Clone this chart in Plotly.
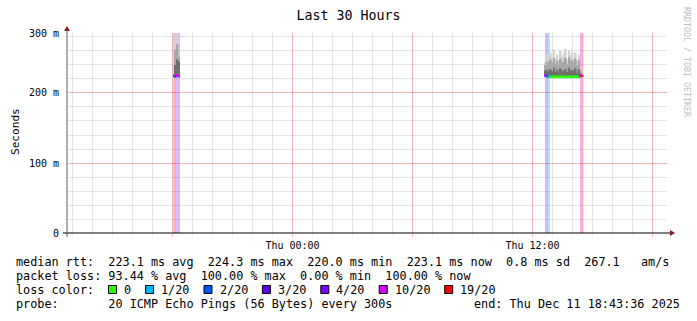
import plotly.graph_objects as go

# ---------------- data ----------------
title_text = "Last 30 Hours"
t_start = "2025-12-10 12:43:36"
t_end = "2025-12-11 18:43:36"
y_top_s = 0.2857

x_tick_vals = ["2025-12-10 18:00", "2025-12-11 00:00", "2025-12-11 06:00",
               "2025-12-11 12:00", "2025-12-11 18:00"]
x_tick_text = ["", "Thu 00:00", "", "Thu 12:00", ""]
y_tick_vals = [0, 0.1, 0.2, 0.2857]
y_tick_text = ["0", "100 m", "200 m", "300 m"]

sample_times = [
    "2025-12-10 18:05", "2025-12-10 18:10", "2025-12-10 18:15", "2025-12-10 18:20",
    "2025-12-11 12:40", "2025-12-11 12:45", "2025-12-11 12:50", "2025-12-11 12:55",
    "2025-12-11 13:00", "2025-12-11 13:05", "2025-12-11 13:10", "2025-12-11 13:15",
    "2025-12-11 13:20", "2025-12-11 13:25", "2025-12-11 13:30", "2025-12-11 13:35",
    "2025-12-11 13:40", "2025-12-11 13:45", "2025-12-11 13:50", "2025-12-11 13:55",
    "2025-12-11 14:00", "2025-12-11 14:05", "2025-12-11 14:10", "2025-12-11 14:15",
    "2025-12-11 14:20", "2025-12-11 14:25", "2025-12-11 14:30",
]
loss_20 = [19, 2, 10, 10,
           10, 2, 1, 0, 0, 0, 0, 0, 0, 0, 0, 0, 0, 0, 0, 0, 0, 0, 0, 0, 0, 10, 19]
median_ms = [224.5, 223.5, 225.0, 224.0,
             225.0, 224.0, 223.5, 223.2, 223.0, 223.4, 223.1, 223.3, 223.0, 223.2, 223.5,
             222.9, 223.1, 223.0, 223.4, 223.2, 223.0, 223.3, 223.6, 223.1, 223.2, 224.0, 224.5]
min_ms = [224.5, 221.0, 222.0, 222.0,
          222.0, 221.0, 221.0, 220.5, 220.3, 220.8, 220.2, 220.6, 220.4, 220.5, 221.0,
          220.1, 220.6, 220.3, 220.7, 220.5, 220.2, 220.6, 220.9, 220.4, 220.5, 221.5, 224.5]
q1_ms = [224.5, 223.0, 224.0, 223.5,
         223.5, 222.5, 222.5, 222.0, 222.0, 222.5, 222.0, 222.3, 222.0, 222.2, 222.5,
         221.8, 222.2, 222.0, 222.4, 222.2, 222.0, 222.3, 222.6, 222.1, 222.2, 223.0, 224.5]
q3_ms = [224.5, 240.0, 248.0, 245.0,
         232.0, 233.0, 230.0, 234.0, 231.0, 236.0, 230.0, 233.0, 229.0, 235.0, 232.0,
         231.0, 234.0, 230.0, 236.0, 232.0, 233.0, 231.0, 235.0, 229.0, 234.0, 228.0, 224.5]
p90_ms = [224.5, 262.0, 270.0, 252.0,
          240.0, 245.0, 243.0, 248.0, 244.0, 250.0, 242.0, 246.0, 240.0, 249.0, 244.0,
          245.0, 250.0, 241.0, 251.0, 246.0, 247.0, 243.0, 249.0, 240.0, 247.0, 233.0, 224.5]
max_ms = [224.5, 285.0, 285.0, 256.0,
          244.0, 256.0, 252.0, 258.0, 251.0, 262.0, 249.0, 255.0, 247.0, 260.0, 252.0,
          257.0, 263.0, 248.0, 261.0, 254.0, 259.0, 250.0, 258.0, 246.0, 255.0, 236.0, 224.5]

loss_levels = [0, 1, 2, 3, 4, 10, 19]
loss_labels = ["0", "1/20", "2/20", "3/20", "4/20", "10/20", "19/20"]
loss_colors = ["#26ff00", "#00b8ff", "#0059ff", "#5e00ff", "#7e00ff", "#dd00ff", "#ff0000"]

rtt_avg, rtt_max, rtt_min, rtt_now, rtt_sd, rtt_ams = 223.1, 224.3, 220.0, 223.1, 0.8, 267.1
loss_avg, loss_max, loss_min, loss_now = 93.44, 100.00, 0.00, 100.00
probe_text = "20 ICMP Echo Pings (56 Bytes) every 300s"
end_text = "end: Thu Dec 11 18:43:36 2025"

# ---------------- helpers ----------------
STEP_MS = 300000
MONO = "DejaVu Sans Mono"
L, R, T, B = 67, 30, 33, 88
PW, PH = 697 - L - R, 321 - T - B


def loss_color(n):
    col = loss_colors[0]
    for lv, c in zip(loss_levels, loss_colors):
        if n >= lv:
            col = c
    return col


def rgba(hexc, a):
    h = hexc.lstrip("#")
    return "rgba(%d,%d,%d,%.2f)" % (int(h[0:2], 16), int(h[2:4], 16), int(h[4:6], 16), a)


def px(x):
    return (x - L) / PW


def py(y):
    return (T + PH - y) / PH


def ann(text, x, y, size=11.8, anchor="left", color="#000000", angle=0):
    return dict(text=text.replace(" ", "\u00a0"), x=px(x), y=py(y), xref="paper", yref="paper",
                xanchor=anchor, yanchor="middle", showarrow=False, textangle=angle,
                borderpad=0, font=dict(family=MONO, size=size, color=color))


fig = go.Figure()

# loss background bands
bg_idx = [i for i, n in enumerate(loss_20) if n > 0]
fig.add_trace(go.Bar(
    x=[sample_times[i] for i in bg_idx], base=[0] * len(bg_idx),
    y=[y_top_s] * len(bg_idx), width=[STEP_MS] * len(bg_idx),
    marker=dict(color=[rgba(loss_color(loss_20[i]), 0.33) for i in bg_idx], line=dict(width=0)),
    hoverinfo="skip", showlegend=False))

# smoke layers
def smoke(lo, hi, color):
    fig.add_trace(go.Bar(
        x=sample_times, base=[v / 1000 for v in lo],
        y=[(h - l) / 1000 for l, h in zip(lo, hi)], width=[STEP_MS] * len(sample_times),
        marker=dict(color=color, line=dict(width=0)), hoverinfo="skip", showlegend=False))

smoke(min_ms, max_ms, "#d3d3d3")
smoke(q1_ms, p90_ms, "#a8a8a8")
smoke(q1_ms, q3_ms, "#6e6e6e")

# median line coloured by loss
MED_H = 0.0034
fig.add_trace(go.Bar(
    x=sample_times, base=[m / 1000 - MED_H / 2 for m in median_ms],
    y=[MED_H] * len(sample_times), width=[STEP_MS] * len(sample_times),
    marker=dict(color=[loss_color(n) for n in loss_20], line=dict(width=0)),
    hoverinfo="skip", showlegend=False))

grid_red = "rgba(255,0,0,0.2)"
grid_grey = "rgba(0,0,0,0.10)"

fig.update_layout(
    width=697, height=321, autosize=False,
    margin=dict(l=L, r=R, t=T, b=B, pad=0),
    paper_bgcolor="#ffffff", plot_bgcolor="#ffffff",
    barmode="overlay", showlegend=False, hovermode=False,
    title=dict(text=title_text, x=0.5, xref="container", xanchor="center",
               y=1 - 15.5 / 321, yref="container", yanchor="middle",
               font=dict(family=MONO, size=13.3, color="#000000")),
    xaxis=dict(type="date", range=[t_start, t_end], tickmode="array",
               tickvals=x_tick_vals, ticktext=x_tick_text,
               showgrid=True, gridcolor=grid_red, gridwidth=1,
               ticks="outside", ticklen=3, tickcolor=grid_red,
               tickfont=dict(family=MONO, size=10, color="#000000"),
               minor=dict(tickmode="linear", tick0="2025-12-10 00:00", dtick=3600000,
                          showgrid=True, gridcolor=grid_grey, ticks="outside",
                          ticklen=2, tickcolor=grid_grey),
               showline=False, zeroline=False, fixedrange=True),
    yaxis=dict(range=[0, y_top_s], tickmode="array", tickvals=y_tick_vals,
               ticktext=y_tick_text, showgrid=True, gridcolor=grid_red, gridwidth=1,
               ticks="", ticklabelstandoff=7,
               tickfont=dict(family=MONO, size=10, color="#000000"),
               minor=dict(tickmode="linear", tick0=0, dtick=0.02, showgrid=True,
                          gridcolor=grid_grey),
               showline=False, zeroline=False, fixedrange=True),
)

shapes = []
# axis lines
shapes.append(dict(type="line", xref="paper", yref="paper", x0=px(63), x1=px(670),
                   y0=0, y1=0, line=dict(color="#000000", width=1)))
shapes.append(dict(type="line", xref="paper", yref="paper", x0=0, x1=0,
                   y0=py(237), y1=py(29), line=dict(color="#606060", width=1)))
# arrow heads
shapes.append(dict(type="path", xref="paper", yref="paper", xsizemode="pixel", ysizemode="pixel",
                   xanchor=px(670), yanchor=0, path="M 0 3 L 5 0 L 0 -3 Z",
                   fillcolor="#8b1a1a", line=dict(width=0)))
shapes.append(dict(type="path", xref="paper", yref="paper", xsizemode="pixel", ysizemode="pixel",
                   xanchor=0, yanchor=py(31), path="M -3 0 L 0 5 L 3 0 Z",
                   fillcolor="#8b1a1a", line=dict(width=0)))

annotations = [
    ann("Seconds", 15, 132, size=11.1, anchor="center", angle=-90),
    ann("RRDTOOL / TOBI OETIKER", 687, 62, size=8.3, anchor="center", color="#c0c0c0", angle=90),
    ann("median rtt:  %.1f ms avg  %.1f ms max  %.1f ms min  %.1f ms now  %.1f ms sd  %.1f   am/s"
        % (rtt_avg, rtt_max, rtt_min, rtt_now, rtt_sd, rtt_ams), 15, 261.5),
    ann("packet loss: %.2f %% avg  %.2f %% max  %.2f %% min  %.2f %% now"
        % (loss_avg, loss_max, loss_min, loss_now), 15, 275.5),
    ann("loss color:", 15, 289.5),
    ann("probe:       " + probe_text, 15, 303.5),
    ann(end_text, 681, 303.5, anchor="right"),
]

# loss colour legend boxes
CH = 7.1
cursor = 108.5
for lab, col in zip(loss_labels, loss_colors):
    shapes.append(dict(type="rect", xref="paper", yref="paper",
                       x0=px(cursor), x1=px(cursor + 8), y0=py(293.5), y1=py(285.5),
                       fillcolor=col, line=dict(color="#000000", width=1)))
    tx = cursor + 14.6
    annotations.append(ann(lab, tx, 289.5))
    cursor = tx + CH * len(lab) + 15.4

fig.update_layout(shapes=shapes, annotations=annotations)
fig.write_html("out.html")
